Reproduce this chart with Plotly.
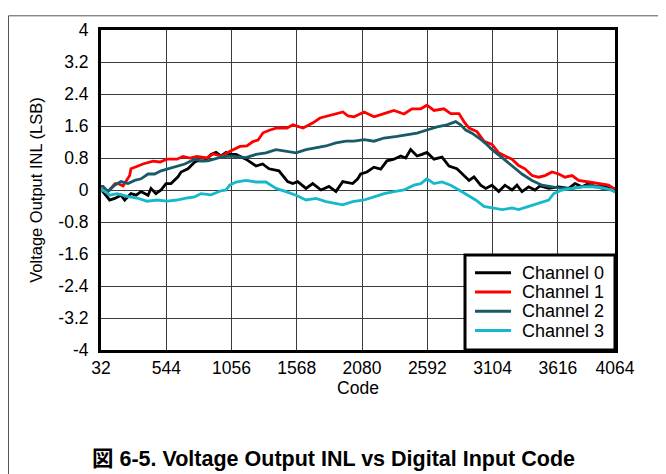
import plotly.graph_objects as go

# ---- data ----
ch0_code = [32, 61, 100, 139, 189, 218, 267, 307, 346, 401, 424, 463, 503, 542, 581, 636, 660, 714, 767, 793,
            845, 895, 934, 973, 1013, 1036, 1091, 1169, 1248, 1300, 1350, 1428, 1496, 1536, 1575, 1640, 1693,
            1758, 1820, 1875, 1928, 2006, 2046, 2069, 2118, 2173, 2226, 2275, 2330, 2383, 2422, 2461, 2511,
            2550, 2589, 2644, 2707, 2762, 2824, 2879, 2919, 2958, 3010, 3050, 3099, 3152, 3201, 3256, 3295,
            3334, 3387, 3436, 3475, 3544, 3622, 3700, 3750, 3805, 3858, 3907, 3970, 4025, 4064]
ch0_inl = [0.02, -0.09, -0.25, -0.21, -0.13, -0.25, -0.09, -0.13, -0.04, -0.13, 0.04, -0.09, 0.00, 0.16,
           0.16, 0.33, 0.45, 0.53, 0.70, 0.73, 0.73, 0.89, 0.94, 0.85, 0.94, 0.89, 0.89, 0.77, 0.60, 0.65,
           0.53, 0.48, 0.21, 0.16, 0.21, 0.04, 0.16, 0.00, 0.09, -0.04, 0.21, 0.16, 0.28, 0.40, 0.45, 0.57,
           0.52, 0.73, 0.77, 0.85, 0.80, 1.01, 0.85, 0.89, 0.94, 0.77, 0.82, 0.60, 0.53, 0.36, 0.24, 0.33,
           0.12, 0.04, 0.12, -0.04, 0.12, 0.00, 0.12, -0.04, 0.08, 0.00, 0.10, 0.04, 0.08, 0.04, 0.16, 0.08,
           0.16, 0.08, 0.09, 0.04, 0.00]

ch1_code = [32, 61, 87, 142, 165, 205, 257, 267, 322, 361, 440, 495, 550, 628, 675, 730, 785, 863, 910, 981,
            1044, 1122, 1177, 1224, 1264, 1303, 1358, 1413, 1491, 1538, 1617, 1695, 1750, 1828, 1883, 1930,
            1970, 2017, 2096, 2174, 2252, 2330, 2409, 2471, 2540, 2589, 2644, 2722, 2775, 2840, 2879, 2919,
            2981, 3036, 3099, 3152, 3201, 3256, 3308, 3358, 3413, 3465, 3515, 3570, 3622, 3672, 3727, 3779,
            3858, 3936, 4014, 4053, 4064]
ch1_inl = [0.00, 0.00, -0.04, 0.16, 0.16, 0.10, 0.36, 0.53, 0.60, 0.65, 0.72, 0.70, 0.77, 0.77, 0.84, 0.80,
           0.84, 0.80, 0.90, 0.85, 0.97, 1.09, 1.10, 1.21, 1.25, 1.43, 1.50, 1.55, 1.55, 1.63, 1.55, 1.68,
           1.80, 1.87, 1.92, 1.95, 1.85, 1.83, 1.95, 1.83, 1.91, 1.99, 1.90, 2.03, 2.03, 2.12, 1.99, 2.03,
           1.91, 1.91, 1.71, 1.55, 1.46, 1.22, 1.14, 0.93, 0.85, 0.77, 0.61, 0.53, 0.36, 0.32, 0.36, 0.45,
           0.40, 0.32, 0.36, 0.24, 0.20, 0.16, 0.12, 0.04, 0.04]

ch2_code = [32, 48, 87, 139, 189, 244, 296, 346, 401, 453, 503, 558, 610, 689, 767, 816, 871, 924, 973, 1041,
            1091, 1169, 1248, 1326, 1405, 1483, 1562, 1640, 1719, 1797, 1875, 1954, 2017, 2096, 2174, 2252,
            2354, 2432, 2511, 2589, 2668, 2746, 2814, 2853, 2893, 2942, 2997, 3050, 3099, 3178, 3256, 3334,
            3413, 3491, 3570, 3648, 3727, 3805, 3883, 3962, 4040, 4064]
ch2_inl = [0.09, 0.09, -0.04, 0.12, 0.21, 0.16, 0.24, 0.28, 0.40, 0.40, 0.48, 0.53, 0.57, 0.65, 0.77, 0.73,
           0.73, 0.77, 0.82, 0.85, 0.83, 0.81, 0.89, 0.93, 1.01, 0.97, 0.93, 1.01, 1.06, 1.10, 1.18, 1.22,
           1.22, 1.26, 1.22, 1.30, 1.34, 1.38, 1.42, 1.50, 1.58, 1.63, 1.71, 1.63, 1.50, 1.42, 1.30, 1.16,
           1.01, 0.81, 0.61, 0.40, 0.24, 0.12, 0.08, 0.04, 0.04, 0.08, 0.12, 0.04, 0.00, -0.04]

ch3_code = [32, 48, 103, 158, 236, 314, 393, 471, 550, 628, 707, 767, 816, 895, 973, 1013, 1041, 1091, 1169,
            1248, 1326, 1405, 1483, 1562, 1640, 1719, 1797, 1875, 1928, 2006, 2096, 2174, 2252, 2330, 2409,
            2487, 2540, 2589, 2644, 2707, 2775, 2840, 2903, 2971, 3036, 3099, 3178, 3256, 3308, 3387, 3465,
            3544, 3583, 3648, 3727, 3805, 3883, 3962, 4040, 4064]
ch3_inl = [0.00, -0.01, -0.13, -0.09, -0.16, -0.20, -0.28, -0.25, -0.28, -0.25, -0.20, -0.17, -0.09, -0.12,
           -0.02, 0.00, 0.12, 0.20, 0.24, 0.20, 0.20, 0.04, -0.04, -0.13, -0.25, -0.21, -0.29, -0.33, -0.37,
           -0.29, -0.25, -0.17, -0.09, -0.04, 0.00, 0.12, 0.16, 0.28, 0.16, 0.20, 0.12, 0.00, -0.13, -0.25,
           -0.41, -0.45, -0.49, -0.45, -0.49, -0.41, -0.33, -0.25, -0.09, 0.00, 0.04, 0.08, 0.08, 0.06, 0.00,
           -0.06]

x_ticks = [32, 544, 1056, 1568, 2080, 2592, 3104, 3616, 4064]
y_ticks = [4, 3.2, 2.4, 1.6, 0.8, 0, -0.8, -1.6, -2.4, -3.2, -4]
y_tick_text = ["4", "3.2", "2.4", "1.6", "0.8", "0", "-0.8", "-1.6", "-2.4", "-3.2", "-4"]

names = ["Channel 0", "Channel 1", "Channel 2", "Channel 3"]
colors = ["#000000", "#ff0000", "#175a6a", "#17b8c9"]

FONT = "Liberation Sans, Arial, Noto Sans CJK JP, sans-serif"

# page body has an 8px margin: figure occupies screen 8..666 x 8..474
W, H = 658, 466
PL, PT, PR, PB = 101, 23, 615, 350          # plot area in screen pixels


def px(sx):
    return (sx - PL) / (PR - PL)


def py(sy):
    return (PB - sy) / (PB - PT)


fig = go.Figure()
for code, inl, name, col in zip([ch0_code, ch1_code, ch2_code, ch3_code],
                                [ch0_inl, ch1_inl, ch2_inl, ch3_inl], names, colors):
    fig.add_trace(go.Scatter(x=code, y=inl, mode="lines", name=name,
                             line=dict(color=col, width=2.8)))

fig.update_layout(
    width=W, height=H,
    margin=dict(l=PL - 8, r=666 - PR, t=PT - 8, b=474 - PB),
    paper_bgcolor="white", plot_bgcolor="white",
    font=dict(family=FONT, size=17.5, color="#000"),
    showlegend=False,
)
fig.update_xaxes(range=[32, 4064], tickmode="array", tickvals=x_ticks,
                 ticktext=[str(v) for v in x_ticks],
                 showgrid=True, gridcolor="#3a3a3a", gridwidth=1.3,
                 showline=True, linecolor="#000", linewidth=3, mirror=True,
                 ticks="", zeroline=False,
                 title=dict(text="Code", standoff=4, font=dict(size=17.5)))
fig.update_yaxes(range=[-4, 4], tickmode="array", tickvals=y_ticks, ticktext=y_tick_text,
                 showgrid=True, gridcolor="#3a3a3a", gridwidth=1.3,
                 showline=True, linecolor="#000", linewidth=3, mirror=True,
                 ticks="", zeroline=False, ticklabelstandoff=6,
                 title=dict(text="Voltage Output INL (LSB)", standoff=12, font=dict(size=16.5)))

# outer frame
fig.add_shape(type="rect", xref="paper", yref="paper",
              x0=px(8.5), x1=px(662), y0=py(480), y1=py(8.5),
              line=dict(color="#555", width=1), layer="below")

# legend box (drawn by hand to match the compact spacing of the reference)
fig.add_shape(type="rect", xref="paper", yref="paper",
              x0=px(465), x1=px(615), y0=py(350), y1=py(253),
              line=dict(color="#000", width=3), fillcolor="white", layer="above")
for i, (name, col) in enumerate(zip(names, colors)):
    yy = 271 + i * 19.7
    fig.add_shape(type="line", xref="paper", yref="paper",
                  x0=px(475), x1=px(511), y0=py(yy), y1=py(yy),
                  line=dict(color=col, width=3), layer="above")
    fig.add_annotation(text=name, xref="paper", yref="paper", x=px(520), y=py(yy),
                       xanchor="left", yanchor="middle", showarrow=False,
                       font=dict(family=FONT, size=18, color="#000"))

# caption
fig.add_annotation(text="<b>図 6-5. Voltage Output INL vs Digital Input Code</b>",
                   xref="paper", yref="paper", x=px(333), y=py(461),
                   xanchor="center", yanchor="middle", showarrow=False,
                   font=dict(family=FONT, size=21.5, color="#000"))

fig.write_html("out.html")
